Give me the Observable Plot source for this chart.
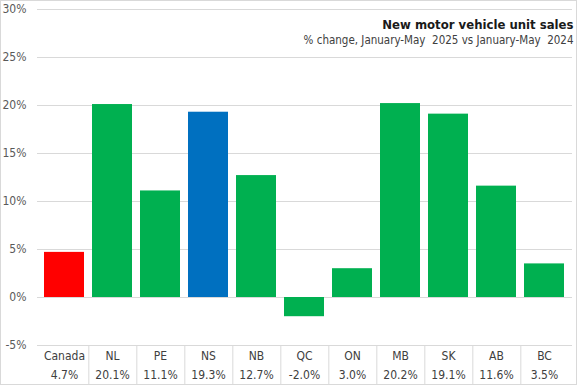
<!DOCTYPE html>
<html>
<head>
<meta charset="utf-8">
<script src="https://cdn.jsdelivr.net/npm/d3@7"></script>
<script src="https://cdn.jsdelivr.net/npm/@observablehq/plot@0.6"></script>
<style>
  html, body { margin: 0; padding: 0; background: #fff; }
  #chart svg { display: block; outline: 1px solid #d9d9d9; outline-offset: -1px; }
</style>
</head>
<body>
<div id="chart"></div>
<script>
const categories = ["Canada", "NL", "PE", "NS", "NB", "QC", "ON", "MB", "SK", "AB", "BC"];
const values = [4.7, 20.1, 11.1, 19.3, 12.7, -2.0, 3.0, 20.2, 19.1, 11.6, 3.5];
const yTicks = [-5, 0, 5, 10, 15, 20, 25, 30];
const title = "New motor vehicle unit sales";
const subtitle = "% change, January-May  2025 vs January-May  2024";

const data = categories.map((c, i) => ({name: c, value: values[i]}));

const W = 577, H = 385, mL = 37, mR = 5, mT = 9, mB = 40;
const step = (W - mL - mR) / categories.length;
const font = "'Liberation Sans Narrow', 'DejaVu Sans Condensed', sans-serif";

const fillOf = d => d.name === "Canada" ? "#ff0000" : d.name === "NS" ? "#0070c0" : "#00b050";

const chart = Plot.plot({
  width: W, height: H,
  marginLeft: mL, marginRight: mR, marginTop: mT, marginBottom: mB,
  style: {fontFamily: font, fontSize: "12px", color: "#595959", background: "#fff"},
  x: {domain: categories, paddingInner: 0.16, paddingOuter: 0.08, axis: null},
  y: {domain: [-5, 30], axis: null},
  marks: [
    Plot.ruleY(yTicks, {stroke: "#d9d9d9", strokeWidth: 1}),
    Plot.barY(data, {x: "name", y: "value", fill: fillOf}),
    Plot.axisY(yTicks, {label: null, tickSize: 0, tickPadding: 11, tickFormat: d => d + "%", fontSize: 12, fill: "#595959"}),
    Plot.ruleX(categories.slice(0, -1), {x: d => d, dx: step / 2, y1: () => -5, y2: () => -5, insetBottom: -40, stroke: "#d9d9d9"}),
    Plot.text(data, {x: "name", y: () => -5, dy: 11, text: "name", fontSize: 12, fill: "#404040"}),
    Plot.text(data, {x: "name", y: () => -5, dy: 30, text: d => d.value.toFixed(1) + "%", fontSize: 12, fill: "#404040"}),
    Plot.text([title], {frameAnchor: "top-right", text: d => d, dy: 10, dx: 1, fontSize: 13, fontWeight: "bold", fill: "#1a1a1a"}),
    Plot.text([subtitle], {frameAnchor: "top-right", text: d => d, dy: 26, dx: 1, fontSize: 11.5, fill: "#404040"})
  ]
});
document.getElementById("chart").append(chart);
document.querySelectorAll("#chart text").forEach(t => { t.setAttribute("xml:space", "preserve"); t.style.whiteSpace = "pre"; });
</script>
</body>
</html>
